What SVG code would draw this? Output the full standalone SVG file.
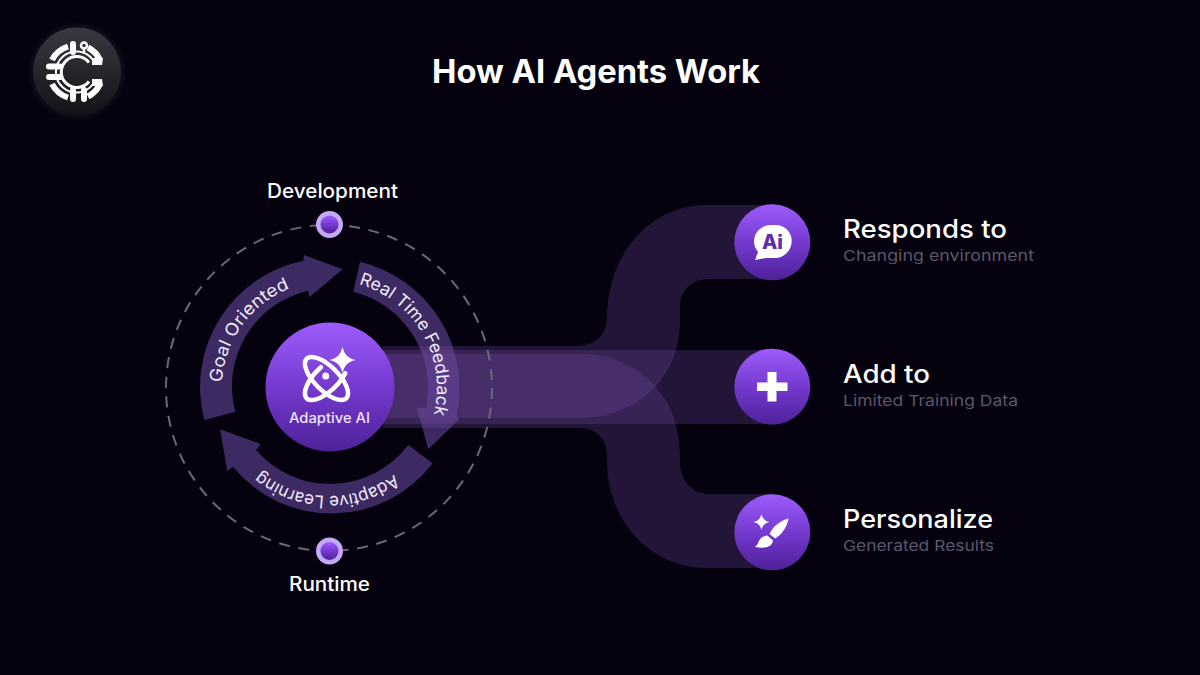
<svg xmlns="http://www.w3.org/2000/svg" width="1200" height="675" viewBox="0 0 1200 675">
<defs>
<linearGradient id="pg" x1="0" y1="0" x2="0" y2="1"><stop offset="0" stop-color="#9d5cfb"/><stop offset="0.5" stop-color="#7539cf"/><stop offset="1" stop-color="#4d2298"/></linearGradient>
<linearGradient id="lg" x1="0" y1="0" x2="0" y2="1"><stop offset="0" stop-color="#3b3841"/><stop offset="1" stop-color="#141118"/></linearGradient>
<radialGradient id="gl"><stop offset="0.8" stop-color="#2a2730" stop-opacity=".5"/><stop offset="1" stop-color="#2a2730" stop-opacity="0"/></radialGradient>
<path id="tp1" d="M222.1,382.4 A107,107 0 0 1 329,281"/>
<path id="tp2" d="M358.8,284.2 A108,108 0 0 1 411.7,457.4"/>
<path id="tp3" d="M394,474.3 A108,108 0 0 1 227.5,424.9"/>
<path id="sp" d="M0,-1 C.16,-.4 .4,-.16 1,0 C.4,.16 .16,.4 0,1 C-.16,.4 -.4,.16 -1,0 C-.4,-.16 -.16,-.4 0,-1Z"/>
</defs>
<style>
text{font-family:Inter,"Liberation Sans",sans-serif}
.band{fill:#694797;fill-opacity:.3}
.arr{fill:#3e2a62}
.bl{font-size:17.500px;font-weight:400;fill:#f1ebfb}
.h{font-size:25px;font-weight:500;fill:#fff}
.s{font-size:15px;font-weight:400;fill:#5d5869}
.lab{font-size:19.500px;font-weight:500;fill:#fff}
.cap{fill:none;stroke:#fff;stroke-linecap:round}
.logo{fill:none;stroke:#fff}
</style>
<rect width="1200" height="675" fill="#05010f"/>
<text x="596" y="83" text-anchor="middle" textLength="328" lengthAdjust="spacingAndGlyphs" style="font-size:32px;font-weight:700;fill:#fff">How AI Agents Work</text>
<g id="logo">
<circle cx="77" cy="71.500" r="50" fill="url(#gl)"/>
<circle cx="77" cy="71.500" r="44" fill="url(#lg)"/>
<path class="logo" stroke-width="6" d="M88,47.500 A27,27 0 0 1 100,60 M68,46.500 A27,27 0 0 0 52,60 M52,84 A27,27 0 0 0 68,97.500 M88,96.500 A27,27 0 0 0 100,84"/>
<path class="logo" stroke-width="2" d="M93,60 A20.500,20.500 0 1 0 93,84"/>
<path class="logo" stroke-width="3" d="M89,62.500 A15.500,15.500 0 1 0 89,81.500"/>
<path d="M92,58 L103,58 L102,65 L92,65Z M92,86 L103,86 L102,79 L92,79Z" fill="#fff"/>
<path class="logo" stroke-width="6" stroke-linecap="round" d="M73,44 V52 M49,66.500 H60 M49,77 H60 M73,99 V90 M84,99 V90"/>
<circle cx="84" cy="45.500" r="3" fill="none" stroke="#fff" stroke-width="2.500"/>
<path class="logo" stroke-width="2.500" d="M84,48 V54"/>
</g>
<g id="connectors">
<path class="arr" d="M204.300,420 A129,129 0 0 1 303.300,260.700 L304,255 L342.700,269.300 L309.300,297.300 L308.300,290.700 A98,98 0 0 0 235.300,411.700 Z"/>
<path class="arr" d="M360,261.700 A130,130 0 0 1 456.700,415 L459.300,419.300 L428.300,449.300 L416.700,407.300 L426,408 A99,99 0 0 0 353.300,291.700 Z"/>
<path class="arr" d="M432.700,463.300 A127,127 0 0 1 233,466.700 L227.300,471 L220,429.300 L260.700,444 L256,450 A98,98 0 0 0 408.300,445 Z"/>
<path class="band" d="M383,346 L577,346 C595,346 607,335 607,317 C607,255 650,205 706,205 L772,205 L772,279 L708,279 C692,279 680,291 680,307 L680,322 C680,378 636,418 580,418 L383,418 Z"/>
<path class="band" d="M383,350 H772 V424 H383 Z"/>
<path class="band" d="M383,354 L580,354 C636,354 680,394 680,455 L680,462 C680,480 692,494 708,494 L772,494 L772,568 L706,568 C650,568 607,520 607,462 L607,455 C607,440 597,428 580,428 L383,428 Z"/>
<circle cx="329" cy="388" r="163" fill="none" stroke="#6d6974" stroke-width="2" stroke-dasharray="11 8.700"/>
<text class="bl" textLength="122" lengthAdjust="spacingAndGlyphs"><textPath href="#tp1">Goal Oriented</textPath></text>
<text class="bl" textLength="166" lengthAdjust="spacingAndGlyphs"><textPath href="#tp2">Real Time Feedback</textPath></text>
<text class="bl" textLength="144" lengthAdjust="spacingAndGlyphs"><textPath href="#tp3">Adaptive Learning</textPath></text>
</g>
<g id="node-development">
<circle cx="329.500" cy="224.500" r="13.500" fill="#c5a8f6"/>
<circle cx="329.500" cy="224.500" r="9" fill="url(#pg)"/>
<text class="lab" x="332.500" y="198" text-anchor="middle" textLength="131" lengthAdjust="spacingAndGlyphs">Development</text>
</g>
<g id="node-runtime">
<circle cx="329.500" cy="551" r="13.500" fill="#c5a8f6"/>
<circle cx="329.500" cy="551" r="9" fill="url(#pg)"/>
<text class="lab" x="329.500" y="591" text-anchor="middle" textLength="81" lengthAdjust="spacingAndGlyphs">Runtime</text>
</g>
<g id="node-adaptive-ai">
<circle cx="330" cy="387" r="64.500" fill="url(#pg)"/>
<ellipse cx="326.500" cy="378.500" rx="28" ry="12" transform="rotate(45 326.500 378.500)" class="cap" stroke-width="4.500"/>
<g transform="translate(326.500 378.500) rotate(-45)">
<path class="cap" stroke-width="4.500" d="M4,-11.900 A28,12 0 1 0 17,9.500"/>
</g>
<circle cx="325.700" cy="376" r="3.500" fill="#fff"/>
<use href="#sp" transform="translate(342.500 360) scale(13)" fill="#fff"/>
<text x="329.500" y="423" text-anchor="middle" textLength="81" lengthAdjust="spacingAndGlyphs" style="font-size:14px;font-weight:500;fill:#ece3fb">Adaptive AI</text>
</g>
<g id="node-responds">
<circle cx="772.300" cy="242.300" r="38" fill="url(#pg)"/>
<path d="M771,225 H776 A16,16 0 0 1 791.700,241 A16.500,17 0 0 1 775,258 H766 L755,260 L758,252 A17,17 0 0 1 754,241 A17,16 0 0 1 771,225Z" fill="#fff"/>
<text x="772.500" y="249" text-anchor="middle" style="font-size:20px;font-weight:800;fill:#5d2eaa">Ai</text>
<text class="h" x="843" y="238" textLength="164" lengthAdjust="spacingAndGlyphs">Responds to</text>
<text class="s" x="843" y="261" textLength="191" lengthAdjust="spacingAndGlyphs">Changing environment</text>
</g>
<g id="node-add">
<circle cx="772.300" cy="386.700" r="38" fill="url(#pg)"/>
<path d="M767.500,372 H776.500 V382.500 H787.500 V391 H776.500 V401.500 H767.500 V391 H757 V382.500 H767.500Z" fill="#fff"/>
<text class="h" x="843" y="383" textLength="87" lengthAdjust="spacingAndGlyphs">Add to</text>
<text class="s" x="843" y="406" textLength="175" lengthAdjust="spacingAndGlyphs">Limited Training Data</text>
</g>
<g id="node-personalize">
<circle cx="772.300" cy="532.300" r="38" fill="url(#pg)"/>
<use href="#sp" transform="translate(761.500 522) scale(8)" fill="#fff"/>
<path d="M788.500,518.500 C780,521 773,526 769.500,534 L775,538.500 C782,534.500 787,527 788.500,518.500Z" fill="#fff"/>
<path d="M767.500,535.500 L773,540.500 C772,547 765,549 755,547 C760,544 757,537 767.500,535.500Z" fill="#fff"/>
<text class="h" x="843" y="528" textLength="150" lengthAdjust="spacingAndGlyphs">Personalize</text>
<text class="s" x="843" y="551" textLength="151" lengthAdjust="spacingAndGlyphs">Generated Results</text>
</g>
</svg>
